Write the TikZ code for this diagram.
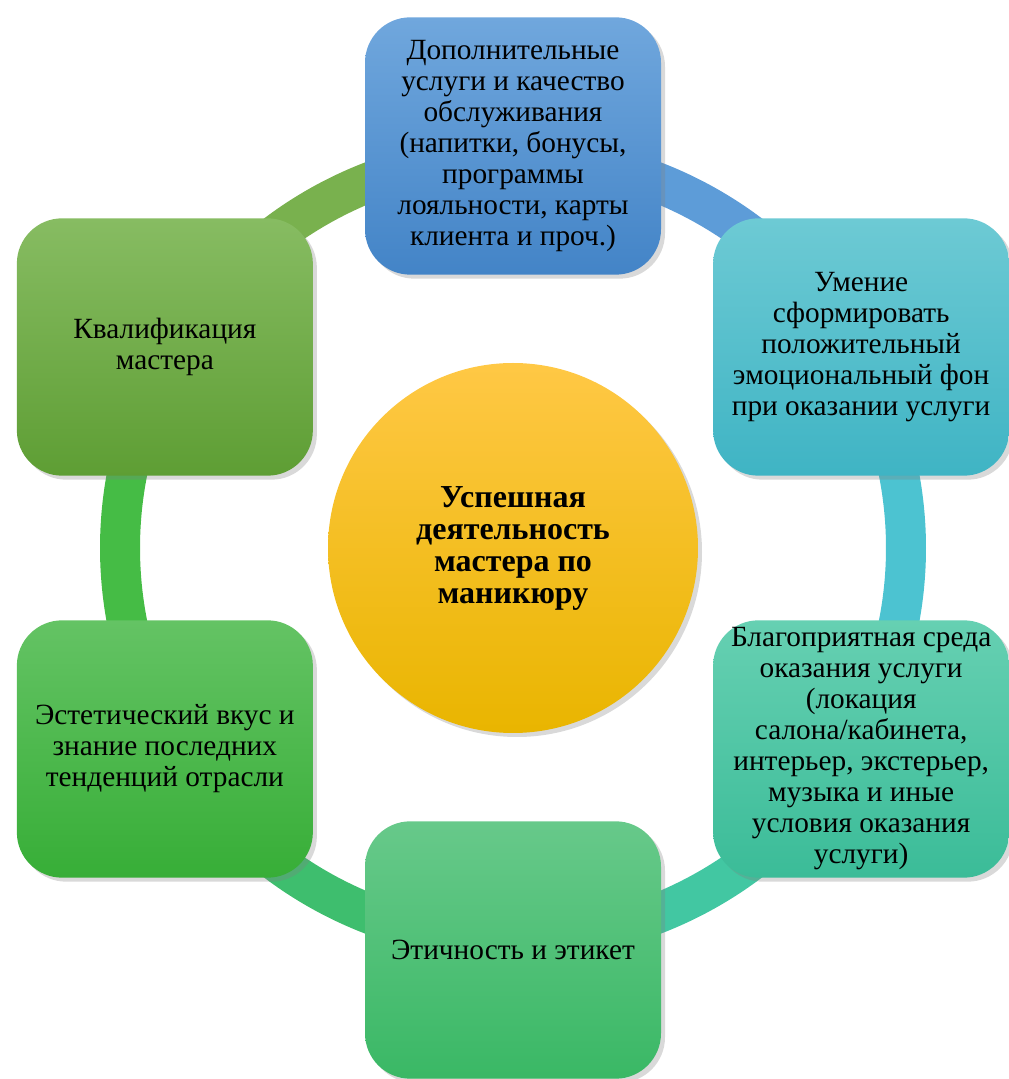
\documentclass[tikz,border=0pt]{standalone}
\usepackage{fontspec}
\setmainfont{Liberation Serif}
\usepackage{tikz}
\usetikzlibrary{positioning,calc,shadows}

\definecolor{blueTop}{HTML}{70A7DD}
\definecolor{blueBot}{HTML}{4384C7}
\definecolor{tealTop}{HTML}{6DCAD4}
\definecolor{tealBot}{HTML}{3FB4C4}
\definecolor{mintTop}{HTML}{66D0B2}
\definecolor{mintBot}{HTML}{3BBC98}
\definecolor{lgreenTop}{HTML}{67C98A}
\definecolor{lgreenBot}{HTML}{3AB865}
\definecolor{greenTop}{HTML}{64C364}
\definecolor{greenBot}{HTML}{37AE37}
\definecolor{oliveTop}{HTML}{87BC62}
\definecolor{oliveBot}{HTML}{5E9E34}
\definecolor{sunTop}{HTML}{FFC845}
\definecolor{sunMid}{HTML}{FCC300}
\definecolor{sunBot}{HTML}{E9B500}
\definecolor{ringOlive}{HTML}{79B14E}
\definecolor{ringBlue}{HTML}{5D9CD8}
\definecolor{ringTeal}{HTML}{4CC3D1}
\definecolor{ringMint}{HTML}{42C7A2}
\definecolor{ringGreen}{HTML}{3EBE6E}
\definecolor{ringLeaf}{HTML}{45BC45}

\begin{document}
\begin{tikzpicture}[x=0.75pt,y=0.75pt,font=\fontsize{22}{23.25}\selectfont]
\tikzstyle{box}=[rounded corners=34pt, minimum width=222pt, minimum height=193pt, align=center, inner sep=2pt, drop shadow={shadow xshift=3pt, shadow yshift=-3pt, opacity=.3}]
\tikzstyle{ring}=[line width=30pt]
\useasboundingbox (0,0) rectangle (1008,1079);
\coordinate (hub) at (513,531);

% ring behind the boxes
\draw[ring, ringOlive] (hub) ++(150:393) arc[start angle=150, end angle=90, radius=393];
\draw[ring, ringBlue] (hub) ++(90:393) arc[start angle=90, end angle=30, radius=393];
\draw[ring, ringTeal] (hub) ++(30:393) arc[start angle=30, end angle=-30, radius=393];
\draw[ring, ringMint] (hub) ++(-30:393) arc[start angle=-30, end angle=-90, radius=393];
\draw[ring, ringGreen] (hub) ++(-90:393) arc[start angle=-90, end angle=-150, radius=393];
\draw[ring, ringLeaf] (hub) ++(-150:393) arc[start angle=-150, end angle=-210, radius=393];

\node[circle, minimum size=277.5pt, inner sep=0pt, align=center, top color=sunTop, middle color=sunMid, bottom color=sunBot, drop shadow={shadow xshift=3pt, shadow yshift=-3pt, opacity=.3}, font=\fontsize{24}{24}\selectfont\bfseries] (core) at (hub) {Успешная\\ деятельность\\ мастера по\\ маникюру};

\node[box, top color=blueTop, bottom color=blueBot] (extra) at ($(hub)+(90:402)$) {Дополнительные\\ услуги и качество\\ обслуживания\\ (напитки, бонусы,\\ программы\\ лояльности, карты\\ клиента и проч.)};
\node[box, top color=tealTop, bottom color=tealBot] (mood) at ($(hub)+(30:402)$) {Умение\\ сформировать\\ положительный\\ эмоциональный фон\\ при оказании услуги};
\node[box, top color=mintTop, bottom color=mintBot] (place) at ($(hub)+(-30:402)$) {Благоприятная среда\\ оказания услуги\\ (локация\\ салона/кабинета,\\ интерьер, экстерьер,\\ музыка и иные\\ условия оказания\\ услуги)};
\node[box, top color=lgreenTop, bottom color=lgreenBot] (ethic) at ($(hub)+(-90:402)$) {Этичность и этикет};
\node[box, top color=greenTop, bottom color=greenBot] (taste) at ($(hub)+(-150:402)$) {Эстетический вкус и\\ знание последних\\ тенденций отрасли};
\node[box, top color=oliveTop, bottom color=oliveBot] (skill) at ($(hub)+(150:402)$) {Квалификация\\ мастера};
\end{tikzpicture}
\end{document}
